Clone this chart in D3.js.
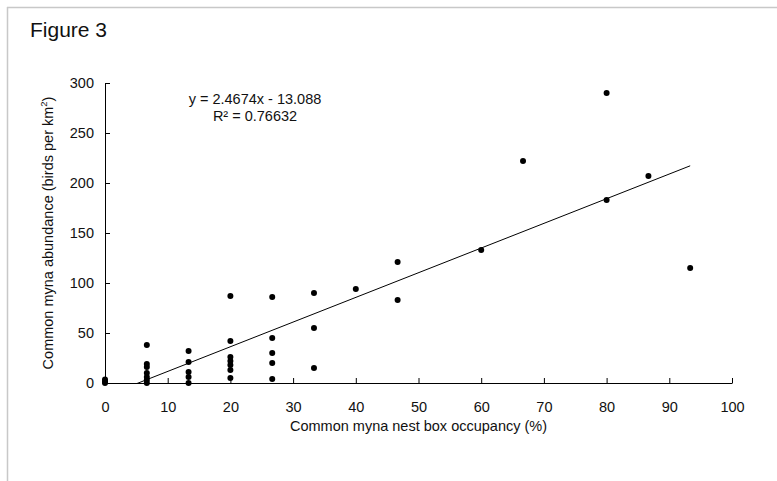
<!DOCTYPE html>
<html>
<head>
<meta charset="utf-8">
<script src="https://cdn.jsdelivr.net/npm/d3@7"></script>
<style>
  html, body { margin: 0; padding: 0; background: #fff; }
  svg { display: block; font-family: "Liberation Sans", Arial, Helvetica, sans-serif; }
</style>
</head>
<body>
<svg id="chart" width="777" height="481"></svg>
<script>
// ---- data ----
const occupancy = [
  0, 0, 0,
  6.67, 6.67, 6.67, 6.67, 6.67, 6.67, 6.67,
  13.33, 13.33, 13.33, 13.33, 13.33,
  20, 20, 20, 20, 20, 20, 20,
  26.67, 26.67, 26.67, 26.67, 26.67,
  33.33, 33.33, 33.33,
  40,
  46.67, 46.67,
  60,
  66.67,
  80, 80,
  86.67,
  93.33
];
const abundance = [
  0, 1.5, 3.5,
  38, 19, 16, 10, 6, 3, 0,
  32, 21, 11, 6, 0,
  87, 42, 26, 22, 18, 13, 5,
  86, 45, 30, 20, 4,
  90, 55, 15,
  94,
  121, 83,
  133,
  222,
  290, 183,
  207,
  115
];
const xTicks = [0, 10, 20, 30, 40, 50, 60, 70, 80, 90, 100];
const yTicks = [0, 50, 100, 150, 200, 250, 300];
const trendSlope = 2.4674;
const trendIntercept = -13.088;
const trendRange = [0, 93.33];
const equationLines = ["y = 2.4674x - 13.088", "R\u00B2 = 0.76632"];
const figureTitle = "Figure 3";
const xTitle = "Common myna nest box occupancy (%)";

// ---- layout ----
const svg = d3.select("#chart");
const pL = 105, pR = 732, pT = 83, pB = 383;
const x = d3.scaleLinear().domain([0, 100]).range([pL, pR]);
const y = d3.scaleLinear().domain([0, 300]).range([pB, pT]);
const fs = 14.5;

// frame lines
svg.append("line").attr("x1", 7).attr("y1", 7.5).attr("x2", 777).attr("y2", 7.5)
  .attr("stroke", "#c8c8c8").attr("stroke-width", 1.5);
svg.append("line").attr("x1", 7.5).attr("y1", 7).attr("x2", 7.5).attr("y2", 481)
  .attr("stroke", "#c8c8c8").attr("stroke-width", 1.5);

// figure title
svg.append("text").attr("x", 30).attr("y", 37).attr("font-size", 21)
  .attr("fill", "#111").text(figureTitle);

// clip for trendline
svg.append("clipPath").attr("id", "plotclip").append("rect")
  .attr("x", pL).attr("y", pT - 5).attr("width", pR - pL).attr("height", pB - pT + 5);

// x axis
const xAxis = d3.axisBottom(x).tickValues(xTicks).tickSize(-5).tickSizeOuter(0).tickPadding(19);
const gx = svg.append("g").attr("transform", `translate(0,${pB})`).call(xAxis);
gx.attr("font-family", null).attr("font-size", null);
gx.selectAll("text").attr("font-size", fs).attr("fill", "#111");
gx.selectAll("line, path").attr("stroke", "#000");

// y axis
const yAxis = d3.axisLeft(y).tickValues(yTicks).tickSize(-5).tickSizeOuter(0).tickPadding(11);
const gy = svg.append("g").attr("transform", `translate(${pL},0)`).call(yAxis);
gy.attr("font-family", null).attr("font-size", null);
gy.selectAll("text").attr("font-size", fs).attr("fill", "#111");
gy.selectAll("line, path").attr("stroke", "#000");

// trendline
const line = d3.line().x(d => x(d)).y(d => y(trendSlope * d + trendIntercept));
svg.append("path").datum(trendRange).attr("d", line).attr("fill", "none")
  .attr("stroke", "#000").attr("stroke-width", 1).attr("clip-path", "url(#plotclip)");

// points
svg.append("g").selectAll("circle").data(occupancy).join("circle")
  .attr("cx", d => x(d)).attr("cy", (d, i) => y(abundance[i])).attr("r", 3).attr("fill", "#000");

// equation
svg.append("g").selectAll("text").data(equationLines).join("text")
  .attr("x", 255).attr("y", (d, i) => 104 + i * 17)
  .attr("text-anchor", "middle").attr("font-size", fs).attr("fill", "#111").text(d => d);

// axis titles
svg.append("text").attr("x", (pL + pR) / 2).attr("y", 431).attr("text-anchor", "middle")
  .attr("font-size", fs).attr("fill", "#111").text(xTitle);

const yt = svg.append("text").attr("transform", `translate(53,${(pT + pB) / 2}) rotate(-90)`)
  .attr("text-anchor", "middle").attr("font-size", fs).attr("fill", "#111");
yt.append("tspan").text("Common myna abundance (birds per km");
yt.append("tspan").attr("font-size", fs * 0.65).attr("dy", -6).text("2");
yt.append("tspan").attr("dy", 6).text(")");
</script>
</body>
</html>
